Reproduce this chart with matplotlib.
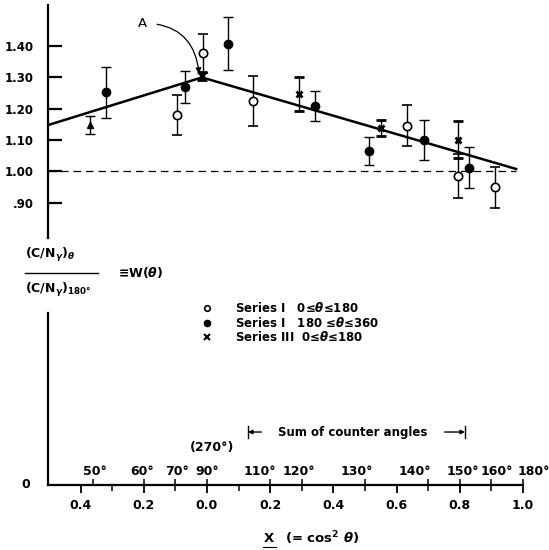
import matplotlib
matplotlib.use('Agg')
import matplotlib.pyplot as plt

plt.rcParams['font.family'] = ['DejaVu Sans']
plt.rcParams['font.weight'] = 'bold'
plt.rcParams['mathtext.fontset'] = 'dejavusans'

# Series I, 0 <= theta <= 180 (open circles)
open_x = [-0.096, -0.014, 0.147, 0.632, 0.793, 0.912]
open_y = [1.180, 1.377, 1.224, 1.146, 0.985, 0.949]
open_err = [0.064, 0.063, 0.080, 0.065, 0.071, 0.065]

# Series I, 180 <= theta <= 360 (filled circles)
filled_x = [-0.320, -0.069, 0.066, 0.342, 0.513, 0.687, 0.830]
filled_y = [1.252, 1.270, 1.408, 1.209, 1.065, 1.100, 1.012]
filled_err = [0.080, 0.050, 0.085, 0.048, 0.045, 0.063, 0.066]

# Series III, 0 <= theta <= 180 (crosses)
cross_x = [-0.016, 0.291, 0.550, 0.793]
cross_y = [1.304, 1.246, 1.139, 1.102]
cross_err = [0.012, 0.054, 0.026, 0.058]

# odd triangle-looking point at the left
tri_x = [-0.370]
tri_y = [1.148]
tri_err = [0.029]

# fitted broken line
fit_x = [-0.503, -0.016, 0.978]
fit_y = [1.148, 1.300, 1.008]

ytick_vals = [0.9, 1.0, 1.1, 1.2, 1.3, 1.4]
ytick_labels = ['.90', '1.00', '1.10', '1.20', '1.30', '1.40']

xtick_vals = [-0.4, -0.2, 0.0, 0.2, 0.4, 0.6, 0.8, 1.0]
xtick_labels = ['0.4', '0.2', '0.0', '0.2', '0.4', '0.6', '0.8', '1.0']
xminor_vals = [-0.3, -0.1, 0.1, 0.3, 0.5, 0.7, 0.9]

angle_ticks = [-0.36, -0.2, -0.1, 0.0, 0.2, 0.3, 0.5, 0.7, 0.8, 0.9, 1.0]
angle_pos = [-0.354, -0.206, -0.095, 0.0, 0.168, 0.29, 0.475, 0.658, 0.81, 0.918, 1.035]
angle_labels = ['50°', '60°', '70°', '90°', '110°', '120°', '130°', '140°', '150°', '160°', '180°']

fig = plt.figure(figsize=(5.49, 5.50), dpi=100)
ax = fig.add_axes([48 / 549, 65 / 550, 501 / 549, 480 / 550])
ax.set_xlim(-0.503, 1.082)
ax.set_ylim(0, 1.531)

for s in ['top', 'right', 'left']:
    ax.spines[s].set_visible(False)
ax.spines['bottom'].set_bounds(-0.503, 1.0)
ax.spines['bottom'].set_linewidth(1.6)

# left axis line, broken where the y label sits
yax = ax.get_yaxis_transform()
ax.plot([0, 0], [0, 0.548], color='black', lw=1.6, transform=yax, clip_on=False)
ax.plot([0, 0], [0.788, 1.531], color='black', lw=1.6, transform=yax, clip_on=False)

ax.set_yticks(ytick_vals)
ax.set_yticklabels(ytick_labels)
ax.tick_params(axis='y', direction='in', length=10, width=1.6, pad=10, labelsize=8.5)

ax.set_xticks(xtick_vals)
ax.set_xticklabels(xtick_labels)
ax.set_xticks(xminor_vals, minor=True)
ax.tick_params(axis='x', which='major', direction='out', length=6, width=1.3, pad=4, labelsize=9)
ax.tick_params(axis='x', which='minor', direction='out', length=4, width=1.1)

# degree ticks above the axis
ax.vlines(angle_ticks, 0, 0.02, color='black', lw=1.1)
for p, lab in zip(angle_pos, angle_labels):
    ax.text(p, 0.022, lab, ha='center', va='bottom', fontsize=9)

ax.text(-0.035, 0.0, '0', transform=ax.get_yaxis_transform(), ha='right', va='center', fontsize=9)

# reference and fit lines
ax.plot([-0.503, 0.978], [1.0, 1.0], color='black', lw=0.9, dashes=(6, 4))
ax.plot(fit_x, fit_y, color='black', lw=1.8, zorder=2)

eb = dict(ecolor='black', elinewidth=1.0, capsize=3.5, capthick=1.0, linestyle='none', zorder=3)
ax.errorbar(open_x, open_y, yerr=open_err, marker='o', ms=6, mfc='white', mec='black', mew=1.2, **eb)
ax.errorbar(filled_x, filled_y, yerr=filled_err, marker='o', ms=6, mfc='black', mec='black', **eb)
ax.errorbar(cross_x, cross_y, yerr=cross_err, marker='x', ms=5, mec='black', mew=2.0, **eb)
ax.errorbar(tri_x, tri_y, yerr=tri_err, marker='^', ms=5, mfc='black', mec='black', **eb)

# point A
ax.annotate('A', xy=(-0.025, 1.312), xytext=(-0.203, 1.473), ha='center', va='center',
            fontsize=9.5, fontweight='normal',
            arrowprops=dict(arrowstyle='-|>', color='black', lw=0.9, mutation_scale=8,
                            shrinkA=5, shrinkB=0, connectionstyle='arc3,rad=-0.45'))

# legend drawn by hand
leg_y = [0.564, 0.517, 0.472]
ax.plot(0.0, leg_y[0], marker='o', ms=4, mfc='white', mec='black', mew=1.2)
ax.plot(0.0, leg_y[1], marker='o', ms=4.5, mfc='black', mec='black')
ax.plot(0.0, leg_y[2], marker='x', ms=4, mec='black', mew=1.5)
ax.text(0.089, leg_y[0], r'Series I   0≤$\theta$≤180', va='center', fontsize=8.5)
ax.text(0.089, leg_y[1], r'Series I   180 ≤$\theta$≤360', va='center', fontsize=8.5)
ax.text(0.089, leg_y[2], r'Series III  0≤$\theta$≤180', va='center', fontsize=8.5)

# sum of counter angles bracket
by = 0.169
ax.plot([0.130, 0.130], [by - 0.018, by + 0.018], color='black', lw=1.0)
ax.plot([0.816, 0.816], [by - 0.018, by + 0.018], color='black', lw=1.0)
ax.annotate('', xy=(0.130, by), xytext=(0.172, by),
            arrowprops=dict(arrowstyle='-|>', color='black', lw=1.0, mutation_scale=6, shrinkA=0, shrinkB=0))
ax.annotate('', xy=(0.816, by), xytext=(0.752, by),
            arrowprops=dict(arrowstyle='-|>', color='black', lw=1.0, mutation_scale=6, shrinkA=0, shrinkB=0))
ax.text(0.462, by, 'Sum of counter angles', ha='center', va='center', fontsize=8.5)
ax.text(0.016, 0.121, '(270°)', ha='center', va='center', fontsize=9)

# y label as a fraction
fig.text(25 / 549, 1 - 255 / 550, r'(C/N$_\gamma$)$_\theta$', ha='left', va='center', fontsize=9)
fig.add_artist(plt.Line2D([25 / 549, 98 / 549], [1 - 273 / 550, 1 - 273 / 550], color='black', lw=1.0))
fig.text(25 / 549, 1 - 290 / 550, r'(C/N$_\gamma$)$_{\mathregular{180°}}$', ha='left', va='center', fontsize=9)
fig.text(118 / 549, 1 - 273 / 550, r'≡W($\theta$)', ha='left', va='center', fontsize=9)

# x label with underlined X
fig.text(269 / 549, 1 - 538 / 550, 'X', ha='center', va='center', fontsize=9.5)
fig.add_artist(plt.Line2D([263 / 549, 276 / 549], [1 - 547 / 550, 1 - 547 / 550], color='black', lw=0.8))
fig.text(285 / 549, 1 - 538 / 550, r'(= cos$^{\mathregular{2}}$ $\theta$)', ha='left', va='center', fontsize=9.5)

fig.savefig('out.png', dpi=100)
